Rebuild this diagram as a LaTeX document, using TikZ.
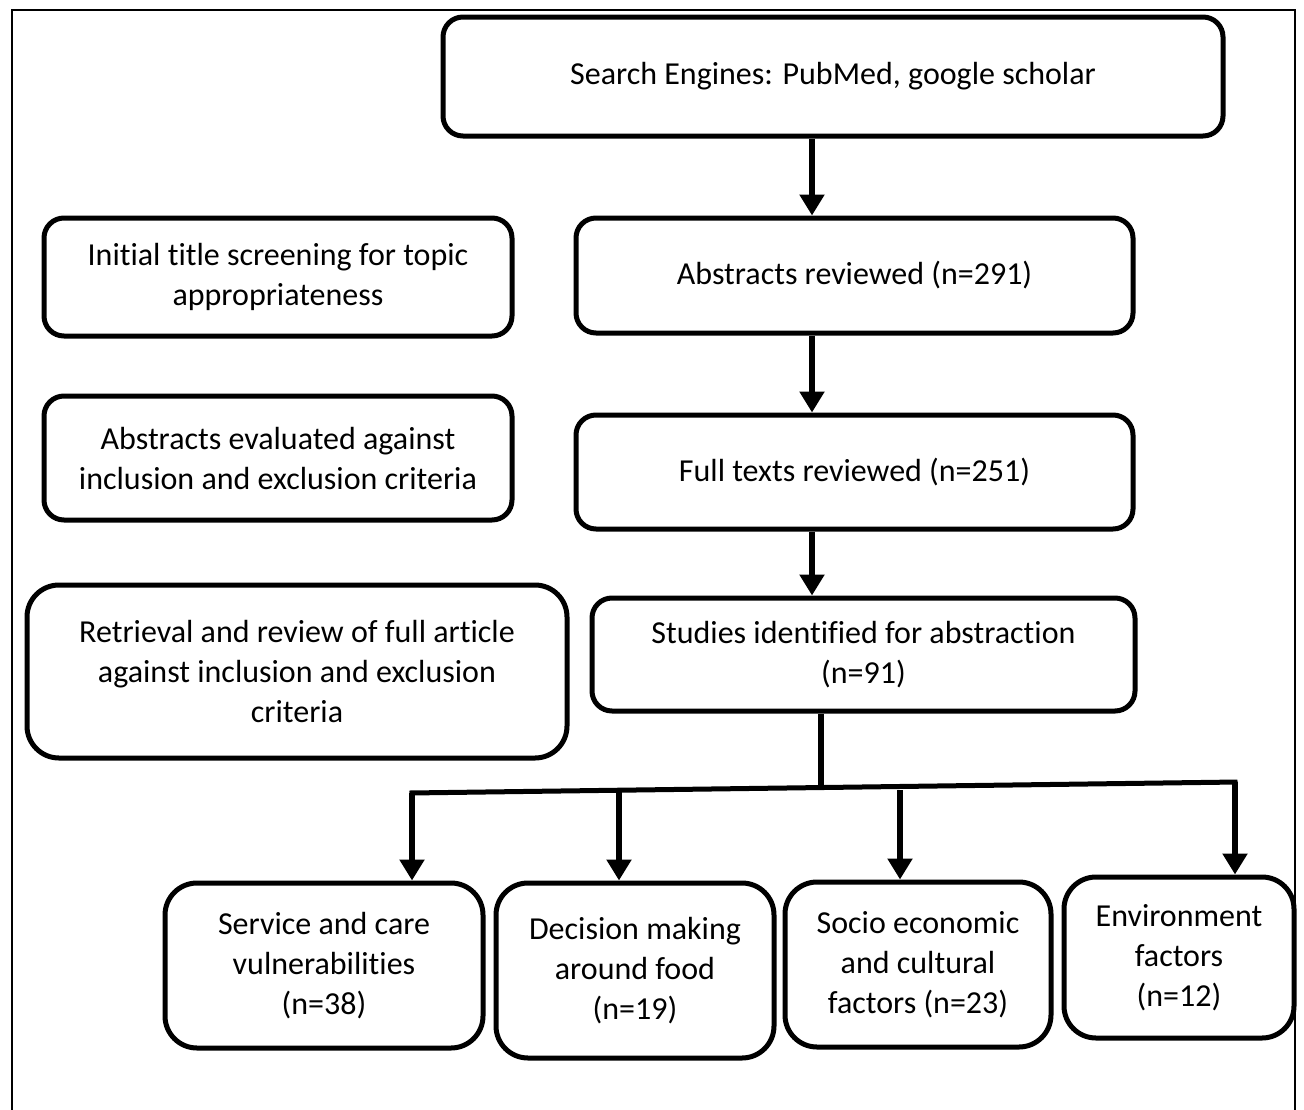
\documentclass[tikz,border=0pt]{standalone}
\usepackage{fontspec}
\setmainfont{Carlito}[Ligatures=NoCommon]
\usetikzlibrary{arrows.meta}
\begin{document}
\begin{tikzpicture}[x=1pt,y=-1pt,
  box/.style={draw, line width=5pt, rounded corners=20pt, align=center, inner sep=0pt,
    font=\fontsize{32}{40}\selectfont},
  bigbox/.style={box, rounded corners=32pt},
  shaft/.style={line width=6.5pt},
  arr/.style={shaft, -{Triangle[width=24pt,length=21pt]}},
  frameline/.style={line width=2pt}]
\useasboundingbox (0,0) rectangle (1304,1109);
\draw[frameline] (12,1115) -- (12,10) -- (1295,10) -- (1295,1115);

\node[box, minimum width=780pt, minimum height=119pt] (top) at (833,76.5) {Search Engines: PubMed, google scholar};
\node[box, minimum width=468pt, minimum height=118pt] (init) at (278,277) {Initial title screening for topic\\appropriateness};
\node[box, minimum width=557pt, minimum height=115pt] (abs) at (854.5,275.5) {Abstracts reviewed (n=291)};
\node[box, minimum width=468pt, minimum height=124pt] (eval) at (278,458) {Abstracts evaluated against\\inclusion and exclusion criteria};
\node[box, minimum width=557pt, minimum height=114pt] (full) at (854.5,472) {Full texts reviewed (n=251)};
\node[bigbox, minimum width=540pt, minimum height=173pt] (retr) at (297,671.5) {Retrieval and review of full article\\against inclusion and exclusion\\criteria};
\node[box, minimum width=543pt, minimum height=113pt] (stud) at (863.5,654.5) {Studies identified for abstraction\\(n=91)};

\node[bigbox, minimum width=318pt, minimum height=165pt] (svc) at (324,965.5) {Service and care\\vulnerabilities\\(n=38)};
\node[bigbox, minimum width=278pt, minimum height=175pt] (dec) at (635,970.5) {Decision making\\around food\\(n=19)};
\node[bigbox, minimum width=266pt, minimum height=165pt] (soc) at (918,964.5) {Socio economic\\and cultural\\factors (n=23)};
\node[bigbox, minimum width=230pt, minimum height=161pt] (env) at (1179,957.5) {Environment\\factors\\(n=12)};

\coordinate (mx) at (812,0);
\draw[arr] (top.south -| mx) -- (abs.north -| mx);
\draw[arr] (abs.south -| mx) -- (full.north -| mx);
\draw[arr] (full.south -| mx) -- (stud.north -| mx);

\coordinate (stemend) at (821,786);
\coordinate (bl) at (412,793);
\coordinate (br) at (1235,782);
\coordinate (dtop) at (619,792);
\coordinate (stop) at (900,790);
\draw[shaft] (stud.south -| stemend) -- (stemend);
\draw[line width=5pt] ([xshift=-2.5pt]bl) -- ([xshift=2.5pt]br);
\draw[arr] (bl) -- (svc.north -| bl);
\draw[arr] (dtop) -- (dec.north -| dtop);
\draw[arr] (stop) -- (soc.north -| stop);
\draw[arr] (br) -- (env.north -| br);
\end{tikzpicture}
\end{document}
